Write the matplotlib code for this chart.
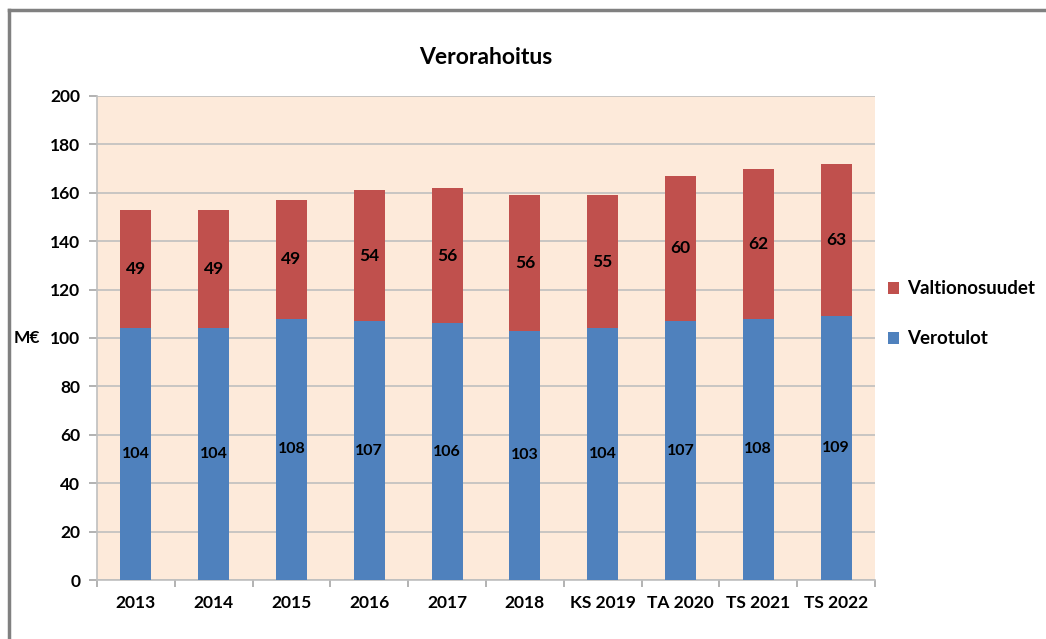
import matplotlib.pyplot as plt
import numpy as np
from matplotlib.lines import Line2D

plt.rcParams['font.family'] = ['Lato', 'DejaVu Sans']

years = ['2013', '2014', '2015', '2016', '2017', '2018',
         'KS 2019', 'TA 2020', 'TS 2021', 'TS 2022']
verotulot = [104, 104, 108, 107, 106, 103, 104, 107, 108, 109]
valtionosuudet = [49, 49, 49, 54, 56, 56, 55, 60, 62, 63]

blue = '#4F81BD'
red = '#C0504D'

fig = plt.figure(figsize=(10.46, 6.39), dpi=100)
ax = fig.add_axes([0.0927, 0.0923, 0.7438, 0.7575])
ax.set_facecolor('#FDEADA')

x = np.arange(len(years))
b1 = ax.bar(x, verotulot, width=0.4, color=blue, label='Verotulot', zorder=3)
b2 = ax.bar(x, valtionosuudet, width=0.4, bottom=verotulot, color=red,
            label='Valtionosuudet', zorder=3)

for i in range(len(years)):
    ax.text(x[i], verotulot[i] / 2, str(verotulot[i]), ha='center', va='center',
            fontsize=11.5, fontweight='bold', zorder=4)
    ax.text(x[i], verotulot[i] + valtionosuudet[i] / 2, str(valtionosuudet[i]),
            ha='center', va='center', fontsize=12.5, fontweight='bold', zorder=4)

ax.set_xlim(-0.5, len(years) - 0.5)
ax.set_ylim(0, 200)
ax.set_yticks(range(0, 201, 20))
ax.yaxis.grid(True, color='#BFBFBF', linewidth=1.2, zorder=0)
ax.set_xticks(x)
ax.set_xticklabels(years, fontsize=12.5, fontweight='bold')
ax.set_xticks(np.arange(-0.5, len(years)), minor=True)
ax.tick_params(axis='x', which='major', length=0, pad=11)
ax.tick_params(axis='x', which='minor', length=5, color='#A6A6A6', width=1.2)
ax.tick_params(axis='y', length=6, color='#A6A6A6', width=1.2, pad=6)
for lab in ax.get_yticklabels():
    lab.set_fontweight('bold')
    lab.set_fontsize(12.5)

for s in ['top', 'right']:
    ax.spines[s].set_visible(False)
for s in ['left', 'bottom']:
    ax.spines[s].set_color('#BFBFBF')
    ax.spines[s].set_linewidth(1.2)

ax.text(-0.107, 100, 'M€', transform=ax.get_yaxis_transform(), ha='left', va='center',
        fontsize=12.5, fontweight='bold')

fig.text(0.464, 0.91, 'Verorahoitus', ha='center', va='center',
         fontsize=16.5, fontweight='bold')

leg = ax.legend(handles=[b2, b1], loc='center left', bbox_to_anchor=(0.995, 0.55),
                frameon=False, fontsize=13.5, handlelength=0.6, handleheight=0.6,
                handletextpad=0.4, labelspacing=1.75)
for t in leg.get_texts():
    t.set_fontweight('bold')

# outer chart border (cropped on right and bottom)
fig.add_artist(Line2D([0.0086, 0.0086], [0.0, 0.984], color='#808080', linewidth=2.5,
                      transform=fig.transFigure))
fig.add_artist(Line2D([0.0086, 1.0], [0.984, 0.984], color='#808080', linewidth=2.5,
                      transform=fig.transFigure))

fig.savefig('out.png', dpi=100)
